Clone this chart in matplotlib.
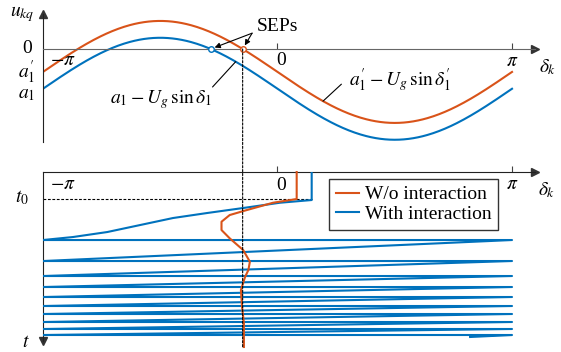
import numpy as np
import matplotlib
matplotlib.use("Agg")
import matplotlib.pyplot as plt
from matplotlib.patches import ConnectionPatch

plt.rcParams["font.family"] = ["Liberation Serif", "DejaVu Serif"]
plt.rcParams["mathtext.fontset"] = "stix"

ORANGE = "#D95319"
BLUE = "#0072BD"

# top panel: u_kq = a - Ug*sin(delta)
a1 = -0.78        # with interaction (blue)
a1p = -0.45       # without interaction (orange)
Ug = 1.0

# bottom panel: delta(t) trajectories (t in arbitrary units, t0 = 0)
t_top = -2.7
t0 = 0.0
orange_delta = [0.257, 0.257, -0.06, -0.41, -0.64, -0.75, -0.75, -0.64, -0.46,
                -0.37, -0.39, -0.435, -0.49, -0.475, -0.45, -0.45]
orange_t = [-2.7, 0.0, 0.37, 1.1, 1.6, 2.27, 3.1, 3.93, 5.1,
            6.27, 7.1, 7.8, 9.1, 10.8, 12.4, 14.8]
blue_first_delta = [0.458, 0.458, 0.033, -0.462, -0.944, -1.40, -1.84, -2.28, -2.74, -np.pi]
blue_first_t = [-2.7, 0.1, 0.37, 0.9, 1.4, 1.9, 2.6, 3.3, 3.8, 4.1]
wrap_t = [4.1, 6.2, 7.7, 8.8, 9.8, 10.7, 11.5, 12.3, 13.0, 13.6]
blue_end = (2.58, 13.8)

# blue sawtooth: slip from +pi to -pi between wraps
blue_delta = list(blue_first_delta)
blue_t = list(blue_first_t)
for i, tw in enumerate(wrap_t):
    blue_delta.append(np.pi)
    blue_t.append(tw)
    if i + 1 < len(wrap_t):
        blue_delta.append(-np.pi)
        blue_t.append(wrap_t[i + 1])
blue_delta.append(blue_end[0])
blue_t.append(blue_end[1])

fig = plt.figure(figsize=(5.61, 3.52), dpi=100)
x_left = -np.pi
x_right = 3.449
ax1 = fig.add_axes([0.0766, 0.5966, 0.877, 0.3636])
ax2 = fig.add_axes([0.0766, 0.03125, 0.877, 0.480])

# ---------------- top panel ----------------
delta = np.linspace(-np.pi, np.pi, 400)
ax1.plot(delta, a1p - Ug * np.sin(delta), color=ORANGE, lw=1.5)
ax1.plot(delta, a1 - Ug * np.sin(delta), color=BLUE, lw=1.5)
sep_o = np.arcsin(a1p / Ug)
sep_b = np.arcsin(a1 / Ug)
ax1.plot(sep_b, 0, "o", ms=4, mfc="white", mec=BLUE, mew=1, zorder=5)
ax1.plot(sep_o, 0, "o", ms=4, mfc="white", mec=ORANGE, mew=1, zorder=5)
ax1.set_xlim(x_left, x_right)
ax1.set_ylim(-1.824, 0.686)
for s in ["top", "right"]:
    ax1.spines[s].set_visible(False)
ax1.spines["bottom"].set_position(("data", 0))
ax1.spines["bottom"].set_color("#666666")
ax1.spines["left"].set_color("#222222")
ax1.set_xticks([0, np.pi])
ax1.set_xticklabels([])
ax1.set_yticks([])
ax1.tick_params(axis="x", direction="in", length=4, width=0.8, color="#444444")
ax1.plot(1, 0, ">", color="#333333", ms=6, transform=ax1.get_yaxis_transform(), clip_on=False)
ax1.plot(0, 1, "^", color="#333333", ms=6, transform=ax1.transAxes, clip_on=False)

fs = 14
ax1.text(-3.42, 0.686, "$u_{kq}$", fontsize=fs, ha="center", va="center")
ax1.text(-3.36, 0, "0", fontsize=fs, ha="center", va="center")
ax1.text(-3.36, -0.45, r"$a_1^{\prime}$", fontsize=fs, ha="center", va="center")
ax1.text(-3.36, -0.90, "$a_1$", fontsize=fs, ha="center", va="center")
ax1.text(-2.87, -0.22, r"$-\pi$", fontsize=fs, ha="center", va="center")
ax1.text(0.05, -0.22, "0", fontsize=fs, ha="center", va="center")
ax1.text(np.pi, -0.25, r"$\pi$", fontsize=fs, ha="center", va="center")
ax1.text(3.62, -0.35, r"$\delta_k$", fontsize=fs, ha="center", va="center")
ax1.text(-0.275, 0.45, "SEPs", fontsize=fs, ha="left", va="center")
ax1.text(-1.56, -1.0, r"$a_1 - U_g\,\sin\delta_1$", fontsize=fs, ha="center", va="center")
ax1.text(1.64, -0.60, r"$a_1^{\prime} - U_g\,\sin\delta_1^{\prime}$", fontsize=fs,
         ha="center", va="center")

for target in [sep_b, sep_o]:
    ax1.annotate("", xy=(target, 0), xytext=(-0.34, 0.31),
                 arrowprops=dict(arrowstyle="-|>", color="black", lw=0.8,
                                 mutation_scale=8, shrinkA=0, shrinkB=3))
pb = -0.56
ax1.annotate("", xy=(pb, a1 - Ug * np.sin(pb)), xytext=(-0.87, -0.745),
             arrowprops=dict(arrowstyle="-", color="black", lw=0.8, shrinkA=0, shrinkB=0))
po = 0.61
ax1.annotate("", xy=(po, a1p - Ug * np.sin(po)), xytext=(0.856, -0.69),
             arrowprops=dict(arrowstyle="-", color="black", lw=0.8, shrinkA=0, shrinkB=0))

# ---------------- bottom panel ----------------
ax2.plot([x_left, blue_first_delta[0]], [t0, t0], color="black", lw=0.8, ls=(0, (2.5, 1.5)))
ax2.plot(orange_delta, orange_t, color=ORANGE, lw=1.5, label="W/o interaction",
         clip_on=False, zorder=4)
ax2.plot(blue_delta, blue_t, color=BLUE, lw=1.5, label="With interaction", zorder=3)
ax2.set_xlim(x_left, x_right)
ax2.set_ylim(14.2, t_top)
for s in ["bottom", "right"]:
    ax2.spines[s].set_visible(False)
ax2.spines["top"].set_color("#222222")
ax2.spines["left"].set_color("#222222")
ax2.xaxis.tick_top()
ax2.set_xticks([0, np.pi])
ax2.set_xticklabels([])
ax2.set_yticks([])
ax2.tick_params(axis="x", direction="out", length=4, width=0.8, color="#444444")
ax2.plot(1, 1, ">", color="#333333", ms=6, transform=ax2.transAxes, clip_on=False)
ax2.plot(0, 0, "v", color="#333333", ms=6, transform=ax2.transAxes, clip_on=False)

ax2.text(-2.87, -1.5, r"$-\pi$", fontsize=fs, ha="center", va="center")
ax2.text(0.05, -1.4, "0", fontsize=fs, ha="center", va="center")
ax2.text(np.pi, -1.5, r"$\pi$", fontsize=fs, ha="center", va="center")
ax2.text(3.60, -0.9, r"$\delta_k$", fontsize=fs, ha="center", va="center")
ax2.text(-3.42, -0.1, "$t_0$", fontsize=fs, ha="center", va="center")
ax2.text(-3.37, 14.4, "$t$", fontsize=fs, ha="center", va="center")

ax2.legend(loc="upper left", bbox_to_anchor=(329 / 561, 1 - 179 / 352),
           bbox_transform=fig.transFigure, borderaxespad=0, fontsize=fs,
           frameon=True, fancybox=False, edgecolor="#333333", framealpha=1,
           handlelength=1.2, handletextpad=0.3, borderpad=0.35, labelspacing=0.1)

# dotted guide through the orange SEP across both panels
con = ConnectionPatch(xyA=(sep_o, 0), coordsA=ax1.transData,
                      xyB=(sep_o, 14.8), coordsB=ax2.transData,
                      color="black", lw=0.8, ls=(0, (2, 1.5)), zorder=1)
fig.add_artist(con)

fig.savefig("out.png", dpi=100)
